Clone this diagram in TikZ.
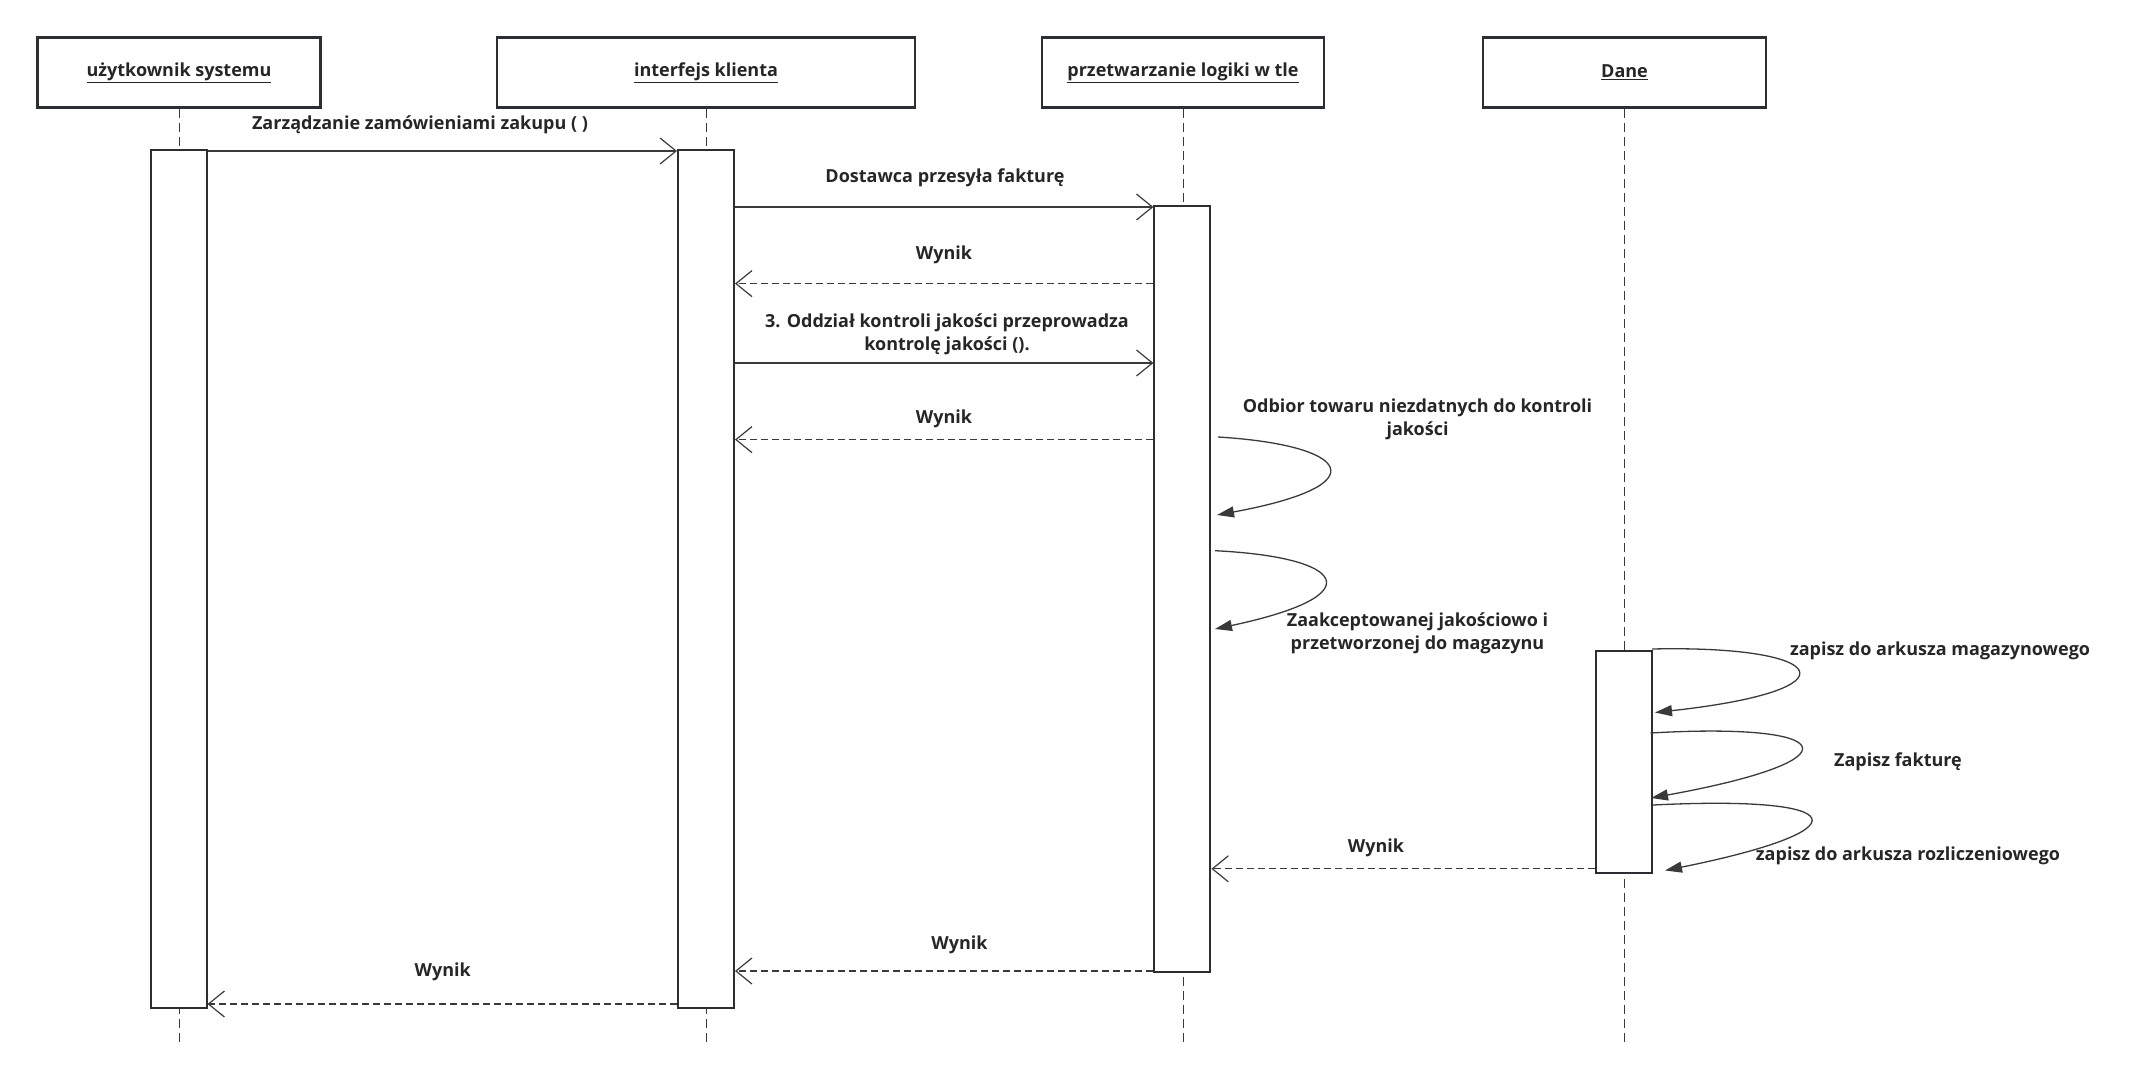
\documentclass[tikz,border=0pt]{standalone}
\usepackage{fontspec}
\setmainfont{Open Sans}
\usetikzlibrary{arrows.meta}
\definecolor{boxc}{HTML}{2B2F33}
\definecolor{linec}{HTML}{3A3A3A}
\definecolor{txt}{HTML}{262626}
\begin{document}
\begin{tikzpicture}[x=1pt,y=-1pt,
  header/.style={draw=boxc, line width=2.6pt, fill=white, minimum width=#1, minimum height=70pt, inner sep=0pt, font=\fontsize{18}{22}\selectfont\bfseries, text=txt},
  actbar/.style={draw=boxc, line width=2pt, fill=white, minimum width=56pt, minimum height=#1, inner sep=0pt},
  lifeline/.style={draw=linec, line width=1pt, dash pattern=on 9pt off 5pt},
  syncmsg/.style={draw=linec, line width=1.3pt, -{Straight Barb[length=16pt,width=26pt,line width=1.2pt]}},
  retmsg/.style={draw=linec, line width=1.3pt, dash pattern=on 7pt off 4pt, -{Straight Barb[length=16pt,width=26pt,line width=1.2pt]}},
  selfmsg/.style={draw=linec, line width=1.3pt, -{Triangle[length=17pt,width=11pt]}},
  lbl/.style={font=\fontsize{18}{23}\selectfont\bfseries, text=txt, align=center, inner sep=0pt}
]
\useasboundingbox (0,0) rectangle (2152,1082);

% headers
\node[header=283pt] (H1) at (179,72.6) {\underline{użytkownik systemu}};
\node[header=418pt] (H2) at (706,72.6) {\underline{interfejs klienta}};
\node[header=282pt] (H3) at (1183,72.6) {\underline{przetwarzanie logiki w tle}};
\node[header=283pt] (H4) at (1624.5,72.6) {\underline{Dane}};

% lifeline ends
\coordinate (E1) at (H1.south |- 0,1045);
\coordinate (E2) at (H2.south |- 0,1045);
\coordinate (E3) at (H3.south |- 0,1045);
\coordinate (E4) at (H4.south |- 0,1045);
\draw[lifeline] (H1.south) -- (E1);
\draw[lifeline] (H2.south) -- (E2);
\draw[lifeline] (H3.south) -- (E3);
\draw[lifeline] (H4.south) -- (E4);

% activation bars
\node[actbar=858pt] (A1) at (178.5,578.5) {};
\node[actbar=858pt] (A2) at (706,578.5) {};
\node[actbar=766pt] (A3) at (1182.4,589.2) {};
\node[actbar=222pt] (A4) at (1624,762) {};

% synchronous messages
\draw[syncmsg] (A1.east |- 0,151) -- (A2.west |- 0,151);
\draw[syncmsg] (A2.east |- 0,207) -- (A3.west |- 0,207);
\draw[syncmsg] (A2.east |- 0,363) -- (A3.west |- 0,363);

% return messages
\draw[retmsg] (A3.west |- 0,283.6) -- (A2.east |- 0,283.6);
\draw[retmsg] (A3.west |- 0,439.6) -- (A2.east |- 0,439.6);
\draw[retmsg] (A4.west |- 0,868.8) -- (A3.east |- 0,868.8);
\draw[retmsg] (A3.west |- 0,971) -- (A2.east |- 0,971);
\draw[retmsg] (A2.west |- 0,1004) -- (A1.east |- 0,1004);

% self messages
\coordinate (s1a) at (1218,437);   \coordinate (s1b) at (1217,515);
\coordinate (s2a) at (1215,550.7); \coordinate (s2b) at (1215,629);
\coordinate (s3a) at (1652,649);   \coordinate (s3b) at (1655,712.5);
\coordinate (s4a) at (1650.5,733); \coordinate (s4b) at (1651,798);
\coordinate (s5a) at (1653,805);   \coordinate (s5b) at (1665,870.5);
\draw[selfmsg] (s1a) .. controls (1350,445) and (1380,485) .. (s1b);
\draw[selfmsg] (s2a) .. controls (1345,557) and (1375,595) .. (s2b);
\draw[selfmsg] (s3a) .. controls (1830,645) and (1860,690) .. (s3b);
\draw[selfmsg] (s4a) .. controls (1840,722) and (1860,760) .. (s4b);
\draw[selfmsg] (s5a) .. controls (1855,795) and (1865,830) .. (s5b);

% labels
\node[lbl] (L1) at (420,125) {Zarządzanie zamówieniami zakupu ( )};
\node[lbl] (L2) at (945,178) {Dostawca przesyła fakturę};
\node[lbl] (L3) at (944,255) {Wynik};
\node[lbl] (L4) at (947,334.5) {3. Oddział kontroli jakości przeprowadza\\kontrolę jakości ().};
\node[lbl] (L5) at (944,418.6) {Wynik};
\node[lbl] (L6) at (1417.5,419) {Odbior towaru niezdatnych do kontroli\\jakości};
\node[lbl] (L7) at (1417.5,633.6) {Zaakceptowanej jakościowo i\\przetworzonej do magazynu};
\node[lbl] (L8) at (1940,650.7) {zapisz do arkusza magazynowego};
\node[lbl] (L9) at (1898,762) {Zapisz fakturę};
\node[lbl] (L10) at (1908,856) {zapisz do arkusza rozliczeniowego};
\node[lbl] (L11) at (1376,848) {Wynik};
\node[lbl] (L12) at (959.5,944.7) {Wynik};
\node[lbl] (L13) at (442.7,972) {Wynik};
\end{tikzpicture}
\end{document}
